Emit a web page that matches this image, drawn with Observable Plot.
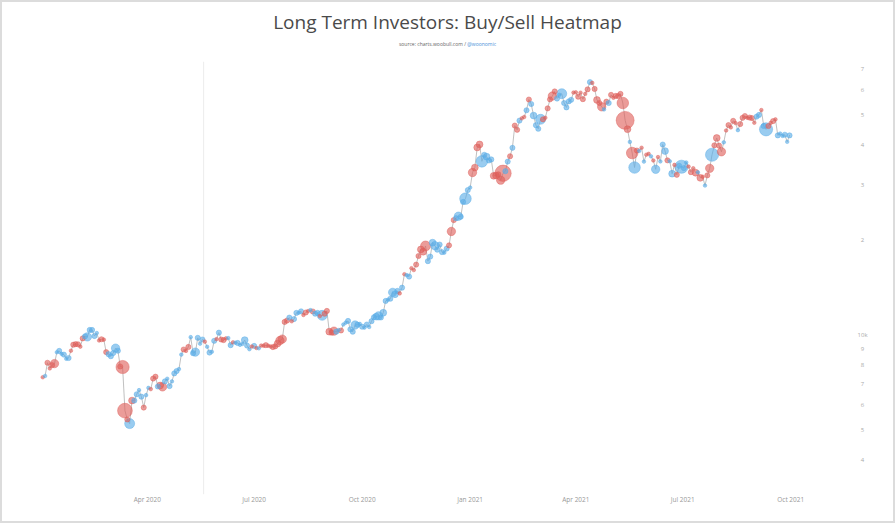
<!DOCTYPE html>
<html><head><meta charset="utf-8">
<script src="https://cdn.jsdelivr.net/npm/d3@7"></script>
<script src="https://cdn.jsdelivr.net/npm/@observablehq/plot@0.6"></script>
<style>
html,body{margin:0;padding:0;background:#fff;}
#frame{position:relative;width:895px;height:523px;box-sizing:border-box;border:2px solid #dcdcdc;overflow:hidden;font-family:"Open Sans",sans-serif;}
#title{position:absolute;left:0;right:0;top:10px;text-align:center;font-size:19px;line-height:21px;color:#4a4a4a;white-space:nowrap;}
#sub{position:absolute;left:0;right:0;top:39px;text-align:center;font-size:5px;line-height:6px;color:#666;white-space:nowrap;}
#sub span{color:#4a8fd8}
#chart{position:absolute;left:-2px;top:53px;}
</style></head>
<body>
<div id="frame">
  <div id="title">Long Term Investors: Buy/Sell Heatmap</div>
  <div id="sub">source: charts.woobull.com / <span>@woonomic</span></div>
  <div id="chart"></div>
</div>
<script>
// daily samples every 2 days starting 2020-01-03
const startDate = "2020-01-03";
const stepDays = 2;
const price2020 = [
  // Jan
  7340,7410,8160,7830,8020,8110,8810,8900,8710,8660,8400,8450,8910,9310,9350,
  // Feb
  9340,9180,9750,9900,9860,10370,10370,9920,10140,9600,9690,9660,8820,8690,
  // Mar
  8560,8760,9080,8910,7940,7910,5750,5390,5230,6190,6190,6480,6680,6370,5880,6440,
  // Apr
  6790,6730,7270,7370,6860,6910,6840,7120,7260,6880,7120,7550,7680,7790,8660,
  // May
  8990,8900,9160,9840,8750,8820,9790,9380,9670,9520,9170,8790,8840,9580,9700,
  // Jun
  10170,9670,9630,9750,9770,9280,9470,9450,9430,9300,9360,9630,9250,9010,9190,
  // Jul
  9230,9090,9070,9250,9240,9280,9240,9190,9150,9200,9390,9600,9700,11000,11110,11350,
  // Aug
  11050,11230,11750,11760,11880,11570,11780,11910,11990,11870,11680,11750,11480,11540,11680,
  // Sep
  11920,10240,10170,10280,10240,10360,10330,10790,10940,11080,10420,10240,10750,10780,10840,
  // Oct
  10620,10550,10790,10600,11060,11380,11430,11500,11360,11760,12820,12930,13030,13650,13460,13800,
  // Nov
  13550,14130,15590,15480,15320,16290,16070,16720,17810,18680,18370,19160,17150,17730,19630,
  // Dec
  19200,18650,19360,18320,18250,18800,19250,21310,23150,23480,23820,23730,26440,27080,28840
];
const price2021 = [
  // Jan
  29370,32780,33990,39370,40250,35570,37320,36820,35790,36070,32000,32070,32370,31000,32600,33110,
  // Feb
  35510,36930,39270,46200,44800,47910,48720,49200,51680,55890,54090,49710,46340,45140,
  // Mar
  48380,48370,48910,52400,55960,57330,59300,56300,57860,58330,54500,52770,55140,55780,58800,
  // Apr
  58920,57060,58750,56050,58240,60200,63500,63110,60380,55720,54500,53000,52000,55030,54500,
  // May
  57830,56620,57400,57350,58250,54500,48000,45000,41000,37800,34000,38500,38400,39290,35500,37340,
  // Jun
  37580,36900,35800,33560,36700,35550,40220,38350,35830,35600,32500,34660,32240,34430,34200,
  // Jul
  33860,35290,34240,32870,33820,32730,32820,31530,31790,29800,32110,33800,37340,39990,42200,
  // Aug
  39900,38150,40870,44580,46370,45590,47830,47060,44690,46720,48900,49550,48900,48990,48810,47170,
  // Sep
  49330,49950,51750,46080,44950,46060,47110,47740,48330,43000,43580,42840,43210,41030,43000
];
// net position change of long term investors: + buy (blue), - sell (red), magnitude = intensity
const flow2020 = [
  -1,1,-2,-1,-2,-4,1,2,1,2,1,2,-1,-2,-2,
  -2,-1,-2,2,4,2,2,2,1,-1,-2,-1,-2,2,
  2,2,4,2,-2,-7,-8,-2,5,-3,2,2,1,2,-2,1,
  1,-1,-2,-2,2,-3,-4,2,1,2,1,2,2,1,1,
  -2,-1,-2,1,2,4,2,1,2,-1,1,2,1,2,-1,
  2,-2,-2,-1,1,2,-1,1,2,1,1,3,2,1,-1,
  2,-1,1,-1,-1,-2,-1,-1,-2,-2,-3,-4,-4,-2,-2,2,
  -1,2,2,1,2,-1,-2,-1,1,-2,2,2,-1,5,-2,
  -2,-3,-2,-4,2,1,-2,1,1,2,2,2,4,2,1,
  2,1,2,1,2,2,3,4,2,3,2,1,2,4,3,2,
  -1,2,-1,1,2,-1,-1,-2,-2,-3,-3,-5,2,2,3,
  4,2,2,2,1,2,-2,-4,-2,2,4,2,2,6,2
];
const flow2021 = [
  1,-4,-3,-3,-3,6,2,3,2,2,-3,-3,-2,-4,-9,2,
  2,-2,2,-2,-2,2,-1,-1,2,-2,2,3,2,2,
  5,-2,-1,-2,-2,-4,-2,2,1,5,2,2,2,2,-1,
  -1,-2,-1,-2,-1,-2,2,-1,-2,-3,-2,-4,1,-2,2,
  -2,-1,-2,-2,-2,-6,-10,-3,1,-6,6,-2,1,-1,1,-1,
  -1,1,-1,4,-1,1,2,3,-2,1,3,-1,-2,2,7,
  2,1,-1,-2,-1,-3,1,-3,-1,1,-2,-4,7,-2,-3,
  -2,-4,1,-1,-2,-1,-2,-1,1,-2,-2,-2,-1,-2,-2,-1,
  2,2,-1,2,7,-2,-1,-2,-1,2,1,1,2,1,2
];
const xTicks = ["2020-04-01","2020-07-01","2020-10-01","2021-01-01","2021-04-01","2021-07-01","2021-10-01"];
const yTicks = [4000,5000,6000,7000,8000,9000,10000,20000,30000,40000,50000,60000,70000];
const yTickLabels = ["4","5","6","7","8","9","10k","2","3","4","5","6","7"];
const markerDate = "2020-05-19";

const prices = price2020.concat(price2021);
const flows = flow2020.concat(flow2021);
const t0 = new Date(startDate + "T00:00:00Z");
const data = prices.map((p, i) => ({
  date: d3.utcDay.offset(t0, stepDays * i),
  price: p,
  size: Math.abs(flows[i]),
  side: flows[i] < 0 ? "sell" : "buy"
}));

const chart = Plot.plot({
  width: 895,
  height: 468,
  marginLeft: 40,
  marginRight: 43,
  marginTop: 4,
  marginBottom: 44,
  style: {fontFamily: "Open Sans, sans-serif", background: "transparent"},
  x: {type: "utc", domain: [new Date("2020-01-01"), new Date("2021-11-21")], label: null},
  y: {type: "log", domain: [3500, 74900], label: null},
  r: {type: "linear", domain: [0, 10], range: [1, 9]},
  color: {domain: ["sell", "buy"], range: ["#de5f5a", "#5aade6"]},
  marks: [
    Plot.ruleX([new Date(markerDate)], {y1: 3110, y2: 73400, stroke: "#ececec", strokeWidth: 1}),
    Plot.line(data, {x: "date", y: "price", stroke: "#b0b0b0", strokeWidth: 0.8}),
    Plot.dot(data, {x: "date", y: "price", r: "size", fill: "side", stroke: "side", fillOpacity: 0.62, strokeOpacity: 0.75, strokeWidth: 0.6}),
    Plot.axisX(xTicks.map(d => new Date(d)), {tickSize: 0, tickPadding: 19, fontSize: 6.5, fill: "#999", stroke: "none", tickFormat: d3.utcFormat("%b %Y"), label: null}),
    Plot.axisY(yTicks, {anchor: "right", tickSize: 0, tickPadding: 12, textAnchor: "middle", fontSize: 6, fill: "#aaa", stroke: "none", tickFormat: d => yTickLabels[yTicks.indexOf(d)], label: null})
  ]
});
document.getElementById("chart").appendChild(chart);
</script>
</body></html>
